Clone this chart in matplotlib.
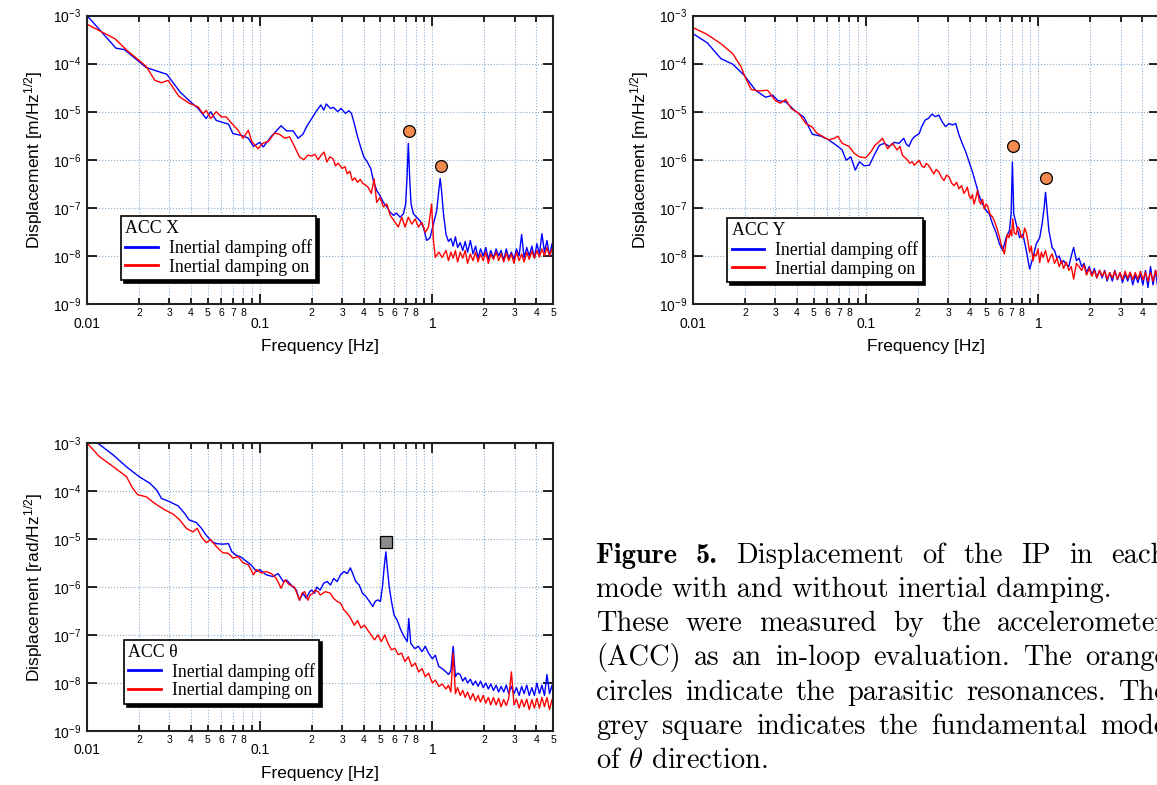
import matplotlib.pyplot as plt
from matplotlib.ticker import FixedLocator, FixedFormatter, NullLocator

plt.rcParams['font.family'] = 'Liberation Sans'
plt.rcParams['mathtext.fontset'] = 'custom'
plt.rcParams['mathtext.rm'] = 'Liberation Sans'
plt.rcParams['mathtext.it'] = 'Liberation Sans:italic'

# ---- data (frequency [Hz], amplitude) ----
f_floor = [1.20, 1.24, 1.28, 1.32, 1.36, 1.40, 1.45, 1.50, 1.55, 1.60, 1.66,
           1.72, 1.78, 1.84, 1.90, 1.97, 2.04, 2.11, 2.18, 2.26, 2.34, 2.42,
           2.50, 2.59, 2.68, 2.77, 2.87, 2.97, 3.07, 3.18, 3.29, 3.40, 3.52,
           3.64, 3.77, 3.90, 4.03, 4.17, 4.31, 4.46, 4.61, 4.77, 4.93, 5.00]

# ACC X, damping off
x_off_lo = [(0.010, 1.0e-3), (0.0147, 2.1e-4), (0.0165, 1.95e-4), (0.022, 8.3e-5),
            (0.029, 6.0e-5), (0.0345, 2.6e-5), (0.039, 1.7e-5), (0.044, 1.17e-5),
            (0.049, 7.2e-6), (0.052, 1.0e-5), (0.056, 6.6e-6), (0.066, 5.5e-6),
            (0.070, 3.5e-6), (0.079, 3.2e-6), (0.086, 2.8e-6), (0.092, 1.9e-6),
            (0.100, 2.3e-6), (0.105, 1.85e-6), (0.117, 3.1e-6), (0.133, 5.1e-6),
            (0.143, 4.0e-6), (0.156, 4.0e-6), (0.167, 2.8e-6), (0.178, 3.4e-6),
            (0.187, 4.9e-6), (0.200, 7.2e-6), (0.212, 1.0e-5), (0.226, 1.38e-5),
            (0.235, 1.08e-5), (0.243, 1.45e-5), (0.257, 1.17e-5), (0.268, 1.23e-5),
            (0.283, 1.0e-5), (0.296, 1.17e-5), (0.314, 9.2e-6), (0.329, 1.05e-5),
            (0.340, 9.2e-6), (0.353, 5.7e-6), (0.369, 3.0e-6), (0.387, 1.7e-6),
            (0.401, 1.15e-6), (0.420, 9.0e-7), (0.440, 6.6e-7), (0.455, 3.7e-7),
            (0.476, 2.3e-7), (0.498, 1.8e-7), (0.520, 1.3e-7), (0.545, 1.05e-7),
            (0.570, 8.1e-8), (0.596, 7.0e-8), (0.620, 7.8e-8), (0.650, 6.4e-8),
            (0.680, 7.5e-8), (0.700, 1.2e-7), (0.712, 3.7e-7), (0.726, 2.2e-6),
            (0.740, 3.7e-7), (0.753, 1.2e-7), (0.777, 7.5e-8), (0.810, 6.4e-8),
            (0.848, 5.4e-8), (0.887, 4.0e-8), (0.927, 2.1e-8), (0.970, 2.4e-8),
            (1.015, 4.7e-8), (1.060, 8.8e-8), (1.090, 2.3e-7), (1.110, 4.1e-7),
            (1.130, 2.3e-7), (1.160, 7.5e-8)]
x_off_floor = [2.8e-8, 2.0e-8, 2.3e-8, 1.6e-8, 2.5e-8, 1.5e-8, 1.9e-8, 1.3e-8,
               2.0e-8, 1.2e-8, 2.1e-8, 1.1e-8, 1.6e-8, 0.9e-8, 1.4e-8, 1.0e-8,
               1.5e-8, 0.85e-8, 1.3e-8, 0.9e-8, 1.4e-8, 1.0e-8, 1.3e-8, 0.8e-8,
               1.4e-8, 0.9e-8, 1.2e-8, 0.85e-8, 1.4e-8, 1.0e-8, 2.8e-8, 0.9e-8,
               1.5e-8, 1.0e-8, 1.6e-8, 0.9e-8, 1.8e-8, 1.1e-8, 2.9e-8, 1.2e-8,
               2.1e-8, 1.0e-8, 1.8e-8, 0.6e-8]

# ACC X, damping on
x_on_lo = [(0.010, 6.6e-4), (0.0145, 3.3e-4), (0.017, 1.9e-4), (0.022, 8.8e-5),
           (0.0247, 4.5e-5), (0.027, 4.0e-5), (0.0295, 4.5e-5), (0.034, 2.1e-5),
           (0.039, 1.5e-5), (0.044, 1.26e-5), (0.047, 9.1e-6), (0.049, 1.07e-5),
           (0.052, 7.2e-6), (0.056, 1.0e-5), (0.060, 7.8e-6), (0.064, 7.8e-6),
           (0.069, 5.7e-6), (0.075, 4.1e-6), (0.080, 2.8e-6), (0.086, 4.1e-6),
           (0.090, 2.4e-6), (0.098, 1.7e-6), (0.104, 2.2e-6), (0.112, 2.4e-6),
           (0.122, 3.6e-6), (0.130, 3.4e-6), (0.140, 2.8e-6), (0.149, 3.0e-6),
           (0.159, 1.9e-6), (0.170, 1.15e-6), (0.180, 1.0e-6), (0.190, 1.25e-6),
           (0.200, 1.2e-6), (0.209, 1.3e-6), (0.218, 1.0e-6), (0.227, 1.25e-6),
           (0.236, 1.45e-6), (0.245, 9.0e-7), (0.255, 1.15e-6), (0.266, 1.05e-6),
           (0.275, 7.5e-7), (0.285, 8.5e-7), (0.300, 6.6e-7), (0.312, 7.2e-7),
           (0.321, 5.1e-7), (0.333, 5.8e-7), (0.344, 3.7e-7), (0.356, 4.2e-7),
           (0.369, 3.4e-7), (0.382, 3.9e-7), (0.396, 3.2e-7), (0.410, 3.0e-7),
           (0.424, 2.7e-7), (0.443, 2.0e-7), (0.460, 4.0e-7), (0.476, 1.3e-7),
           (0.498, 1.65e-7), (0.520, 1.05e-7), (0.545, 1.2e-7), (0.570, 7.0e-8),
           (0.600, 5.4e-8), (0.635, 4.0e-8), (0.665, 6.4e-8), (0.695, 4.0e-8),
           (0.726, 6.4e-8), (0.760, 4.6e-8), (0.796, 5.9e-8), (0.830, 4.0e-8),
           (0.870, 5.0e-8), (0.910, 3.1e-8), (0.950, 4.0e-8), (0.990, 1.2e-7),
           (1.015, 2.1e-8), (1.040, 9.3e-9), (1.090, 1.2e-8), (1.140, 9.3e-9)]
x_on_floor = [1.3e-8, 0.8e-8, 1.2e-8, 0.9e-8, 1.3e-8, 0.75e-8, 1.2e-8, 0.9e-8,
              1.3e-8, 0.7e-8, 1.1e-8, 0.8e-8, 1.2e-8, 0.75e-8, 1.1e-8, 0.8e-8,
              1.2e-8, 0.7e-8, 1.1e-8, 0.85e-8, 1.2e-8, 0.8e-8, 1.1e-8, 0.75e-8,
              1.15e-8, 0.8e-8, 1.1e-8, 0.7e-8, 1.2e-8, 0.8e-8, 1.1e-8, 0.75e-8,
              1.2e-8, 0.85e-8, 1.25e-8, 0.9e-8, 1.3e-8, 0.95e-8, 1.4e-8, 1.0e-8,
              1.5e-8, 1.0e-8, 1.4e-8, 1.1e-8]

# ACC Y, damping off
y_off_lo = [(0.010, 4.2e-4), (0.0121, 2.7e-4), (0.0145, 1.27e-4), (0.017, 9.7e-5),
            (0.0198, 5.7e-5), (0.023, 2.8e-5), (0.0263, 2.0e-5), (0.029, 2.2e-5),
            (0.031, 1.7e-5), (0.0344, 1.6e-5), (0.039, 1.04e-5), (0.044, 7.6e-6),
            (0.049, 3.4e-6), (0.055, 3.1e-6), (0.061, 2.6e-6), (0.069, 1.9e-6),
            (0.073, 1.6e-6), (0.077, 9.8e-7), (0.082, 1.15e-6), (0.087, 6.1e-7),
            (0.092, 9.1e-7), (0.098, 7.5e-7), (0.105, 7.7e-7), (0.112, 1.25e-6),
            (0.120, 2.0e-6), (0.128, 2.2e-6), (0.137, 1.9e-6), (0.146, 2.3e-6),
            (0.156, 2.2e-6), (0.166, 2.8e-6), (0.172, 2.1e-6), (0.178, 1.9e-6),
            (0.185, 2.6e-6), (0.191, 3.0e-6), (0.204, 3.5e-6), (0.211, 4.9e-6),
            (0.221, 6.7e-6), (0.231, 7.3e-6), (0.242, 8.9e-6), (0.253, 7.9e-6),
            (0.265, 8.5e-6), (0.277, 6.2e-6), (0.290, 4.9e-6), (0.304, 5.7e-6),
            (0.318, 5.3e-6), (0.332, 5.7e-6), (0.347, 3.3e-6), (0.362, 2.2e-6),
            (0.380, 1.45e-6), (0.397, 9.0e-7), (0.415, 5.6e-7), (0.434, 3.2e-7),
            (0.454, 1.8e-7), (0.475, 1.2e-7), (0.497, 8.9e-8), (0.520, 7.5e-8),
            (0.543, 4.6e-8), (0.568, 3.1e-8), (0.594, 1.8e-8), (0.621, 1.3e-8),
            (0.650, 2.4e-8), (0.680, 3.4e-8), (0.695, 7.5e-8), (0.707, 9.0e-7),
            (0.720, 7.5e-8), (0.744, 4.6e-8), (0.778, 2.4e-8), (0.814, 2.8e-8),
            (0.851, 1.3e-8), (0.890, 5.3e-9), (0.930, 9.3e-9), (0.973, 1.8e-8),
            (1.018, 2.4e-8), (1.050, 4.6e-8), (1.080, 1.0e-7), (1.100, 2.1e-7),
            (1.120, 1.0e-7), (1.150, 3.4e-8), (1.190, 1.8e-8)]
y_off_floor = [1.5e-8, 1.3e-8, 0.9e-8, 1.0e-8, 0.7e-8, 0.8e-8, 0.65e-8, 0.6e-8,
               1.0e-8, 1.5e-8, 0.8e-8, 0.9e-8, 0.6e-8, 0.7e-8, 0.45e-8, 0.6e-8,
               0.4e-8, 0.55e-8, 0.35e-8, 0.5e-8, 0.35e-8, 0.5e-8, 0.3e-8, 0.45e-8,
               0.3e-8, 0.5e-8, 0.32e-8, 0.45e-8, 0.28e-8, 0.42e-8, 0.3e-8, 0.45e-8,
               0.25e-8, 0.4e-8, 0.28e-8, 0.42e-8, 0.25e-8, 0.5e-8, 0.22e-8, 0.6e-8,
               0.25e-8, 0.5e-8, 0.2e-8, 0.4e-8]

# ACC Y, damping on
y_on_lo = [(0.010, 5.6e-4), (0.012, 4.1e-4), (0.0145, 2.6e-4), (0.017, 1.6e-4),
           (0.019, 8.5e-5), (0.020, 5.3e-5), (0.0217, 2.9e-5), (0.024, 2.7e-5),
           (0.027, 2.8e-5), (0.030, 1.7e-5), (0.032, 1.5e-5), (0.0344, 1.8e-5),
           (0.037, 1.17e-5), (0.041, 9.2e-6), (0.045, 5.7e-6), (0.049, 4.8e-6),
           (0.052, 3.6e-6), (0.057, 3.0e-6), (0.061, 2.6e-6), (0.066, 2.8e-6),
           (0.069, 3.1e-6), (0.073, 2.2e-6), (0.080, 1.9e-6), (0.086, 1.35e-6),
           (0.092, 1.15e-6), (0.100, 1.1e-6), (0.107, 1.45e-6), (0.113, 2.0e-6),
           (0.120, 2.4e-6), (0.125, 2.8e-6), (0.134, 1.7e-6), (0.143, 2.2e-6),
           (0.152, 1.6e-6), (0.158, 1.9e-6), (0.163, 1.25e-6), (0.174, 1.0e-6),
           (0.180, 8.5e-7), (0.186, 9.1e-7), (0.191, 7.7e-7), (0.198, 8.8e-7),
           (0.204, 9.7e-7), (0.211, 7.5e-7), (0.218, 6.9e-7), (0.224, 8.4e-7),
           (0.231, 7.7e-7), (0.240, 6.2e-7), (0.248, 5.1e-7), (0.256, 6.3e-7),
           (0.265, 5.6e-7), (0.274, 4.4e-7), (0.284, 3.7e-7), (0.294, 4.8e-7),
           (0.304, 4.4e-7), (0.314, 3.3e-7), (0.325, 2.9e-7), (0.336, 3.4e-7),
           (0.347, 2.5e-7), (0.359, 2.9e-7), (0.371, 2.0e-7), (0.380, 2.3e-7),
           (0.388, 2.7e-7), (0.397, 1.8e-7), (0.406, 1.55e-7), (0.415, 1.9e-7),
           (0.424, 1.2e-7), (0.434, 1.6e-7), (0.444, 2.3e-7), (0.454, 1.4e-7),
           (0.464, 1.2e-7), (0.475, 1.5e-7), (0.486, 9.5e-8), (0.497, 1.2e-7),
           (0.508, 1.1e-7), (0.520, 8.0e-8), (0.531, 7.0e-8), (0.543, 6.5e-8),
           (0.555, 5.4e-8), (0.568, 4.3e-8), (0.580, 3.4e-8), (0.594, 2.5e-8),
           (0.607, 1.8e-8), (0.621, 1.4e-8), (0.635, 1.1e-8), (0.648, 1.8e-8),
           (0.660, 2.8e-8), (0.675, 2.4e-8), (0.690, 3.4e-8), (0.700, 2.6e-8),
           (0.710, 5.9e-8), (0.725, 3.0e-8), (0.744, 2.8e-8), (0.760, 4.0e-8),
           (0.778, 3.6e-8), (0.795, 2.5e-8), (0.814, 2.4e-8), (0.832, 3.8e-8),
           (0.851, 3.1e-8), (0.870, 2.0e-8), (0.890, 1.2e-8), (0.910, 1.6e-8),
           (0.930, 7.9e-9), (0.950, 1.1e-8), (0.973, 1.0e-8), (0.995, 1.4e-8),
           (1.018, 7.3e-9), (1.040, 1.2e-8), (1.065, 9.3e-9), (1.100, 1.3e-8),
           (1.140, 7.3e-9), (1.180, 1.0e-8)]
y_on_floor = [1.1e-8, 0.7e-8, 0.9e-8, 0.6e-8, 0.8e-8, 0.55e-8, 0.75e-8, 0.5e-8,
              0.6e-8, 0.33e-8, 0.7e-8, 0.6e-8, 0.5e-8, 0.65e-8, 0.4e-8, 0.55e-8,
              0.38e-8, 0.5e-8, 0.35e-8, 0.5e-8, 0.38e-8, 0.48e-8, 0.33e-8, 0.45e-8,
              0.35e-8, 0.48e-8, 0.33e-8, 0.45e-8, 0.32e-8, 0.48e-8, 0.34e-8, 0.46e-8,
              0.32e-8, 0.45e-8, 0.33e-8, 0.48e-8, 0.32e-8, 0.46e-8, 0.3e-8, 0.45e-8,
              0.3e-8, 0.5e-8, 0.33e-8, 0.42e-8]

# ACC theta, damping off
t_off_lo = [(0.0115, 1.0e-3), (0.0142, 5.6e-4), (0.0169, 3.2e-4), (0.020, 2.0e-4),
            (0.0231, 1.45e-4), (0.0253, 1.05e-4), (0.027, 7.0e-5), (0.030, 6.0e-5),
            (0.0337, 4.9e-5), (0.0368, 3.4e-5), (0.039, 2.5e-5), (0.043, 2.2e-5),
            (0.046, 1.67e-5), (0.049, 1.2e-5), (0.053, 8.8e-6), (0.056, 8.0e-6),
            (0.061, 7.8e-6), (0.066, 8.0e-6), (0.069, 5.4e-6), (0.073, 4.6e-6),
            (0.078, 4.2e-6), (0.084, 3.4e-6), (0.089, 2.9e-6), (0.096, 2.1e-6),
            (0.100, 2.3e-6), (0.109, 1.8e-6), (0.119, 1.65e-6), (0.128, 1.9e-6),
            (0.137, 1.3e-6), (0.143, 1.4e-6), (0.152, 1.1e-6), (0.163, 8.6e-7),
            (0.170, 5.3e-7), (0.178, 7.4e-7), (0.186, 5.8e-7), (0.195, 8.0e-7),
            (0.200, 8.6e-7), (0.208, 7.4e-7), (0.214, 1.0e-6), (0.224, 8.6e-7),
            (0.235, 1.2e-6), (0.246, 1.3e-6), (0.257, 1.1e-6), (0.268, 1.5e-6),
            (0.281, 1.3e-6), (0.294, 1.8e-6), (0.308, 2.1e-6), (0.322, 1.9e-6),
            (0.335, 2.5e-6), (0.344, 2.0e-6), (0.360, 1.3e-6), (0.377, 1.1e-6),
            (0.394, 7.4e-7), (0.413, 6.3e-7), (0.432, 5.0e-7), (0.452, 3.9e-7),
            (0.466, 5.0e-7), (0.484, 5.4e-7), (0.500, 5.0e-7), (0.514, 1.0e-6),
            (0.526, 2.6e-6), (0.538, 5.4e-6), (0.550, 2.3e-6), (0.563, 1.0e-6),
            (0.580, 5.0e-7), (0.600, 2.6e-7), (0.627, 2.0e-7), (0.655, 1.3e-7),
            (0.685, 9.3e-8), (0.716, 7.3e-8), (0.730, 2.2e-7), (0.750, 6.7e-8),
            (0.790, 5.2e-8), (0.830, 5.8e-8), (0.870, 4.5e-8), (0.910, 5.8e-8),
            (0.950, 4.2e-8), (1.000, 3.2e-8), (1.040, 3.8e-8), (1.090, 2.2e-8),
            (1.140, 2.0e-8)]
t_off_floor = [1.7e-8, 1.5e-8, 1.8e-8, 5.8e-8, 1.35e-8, 1.6e-8, 1.5e-8, 1.1e-8,
               1.3e-8, 1.0e-8, 1.2e-8, 0.9e-8, 1.1e-8, 0.85e-8, 1.1e-8, 0.8e-8,
               1.0e-8, 0.75e-8, 0.95e-8, 0.7e-8, 0.9e-8, 0.65e-8, 0.85e-8, 0.65e-8,
               0.9e-8, 0.6e-8, 0.85e-8, 0.6e-8, 0.8e-8, 0.55e-8, 0.85e-8, 0.6e-8,
               0.9e-8, 0.55e-8, 0.8e-8, 0.55e-8, 1.0e-8, 0.6e-8, 0.9e-8, 0.55e-8,
               1.5e-8, 0.6e-8, 0.9e-8, 0.6e-8]

# ACC theta, damping on
t_on_lo = [(0.010, 1.0e-3), (0.0118, 5.2e-4), (0.0142, 3.2e-4), (0.0169, 2.0e-4),
           (0.0185, 1.1e-4), (0.0197, 8.3e-5), (0.022, 7.6e-5), (0.0247, 5.5e-5),
           (0.028, 4.1e-5), (0.0315, 3.3e-5), (0.0344, 2.5e-5), (0.0376, 1.67e-5),
           (0.041, 1.4e-5), (0.0435, 1.67e-5), (0.046, 1.1e-5), (0.049, 8.4e-6),
           (0.052, 9.7e-6), (0.056, 7.0e-6), (0.061, 5.2e-6), (0.066, 5.0e-6),
           (0.070, 4.0e-6), (0.075, 4.3e-6), (0.080, 3.2e-6), (0.086, 2.9e-6),
           (0.092, 1.8e-6), (0.096, 2.3e-6), (0.102, 1.95e-6), (0.109, 2.1e-6),
           (0.117, 1.9e-6), (0.125, 1.5e-6), (0.133, 9.4e-7), (0.140, 1.4e-6),
           (0.149, 1.1e-6), (0.159, 1.0e-6), (0.170, 5.3e-7), (0.176, 7.4e-7),
           (0.182, 8.0e-7), (0.190, 5.3e-7), (0.196, 6.8e-7), (0.204, 7.4e-7),
           (0.209, 8.6e-7), (0.218, 8.0e-7), (0.224, 6.8e-7), (0.240, 8.0e-7),
           (0.257, 7.4e-7), (0.268, 5.8e-7), (0.281, 5.0e-7), (0.294, 4.6e-7),
           (0.308, 3.3e-7), (0.322, 2.8e-7), (0.337, 2.2e-7), (0.353, 1.6e-7),
           (0.369, 2.0e-7), (0.386, 1.4e-7), (0.404, 1.6e-7), (0.423, 1.25e-7),
           (0.442, 1.0e-7), (0.462, 7.9e-8), (0.484, 1.0e-7), (0.506, 7.3e-8),
           (0.530, 1.0e-7), (0.553, 6.7e-8), (0.580, 4.9e-8), (0.606, 5.3e-8),
           (0.634, 3.9e-8), (0.663, 4.2e-8), (0.694, 2.8e-8), (0.726, 3.5e-8),
           (0.760, 2.2e-8), (0.796, 2.6e-8), (0.833, 1.7e-8), (0.872, 2.0e-8),
           (0.910, 1.35e-8), (0.950, 1.6e-8), (1.000, 1.0e-8), (1.040, 1.15e-8),
           (1.090, 8.5e-9), (1.140, 9.5e-9)]
t_on_floor = [7.5e-9, 9.0e-9, 6.5e-9, 4.2e-8, 6.0e-9, 8.0e-9, 5.5e-9, 7.0e-9,
              5.0e-9, 6.5e-9, 4.5e-9, 6.0e-9, 4.2e-9, 5.5e-9, 4.0e-9, 5.5e-9,
              3.8e-9, 5.0e-9, 3.5e-9, 5.0e-9, 3.5e-9, 4.8e-9, 3.2e-9, 4.5e-9,
              3.4e-9, 4.8e-9, 1.7e-8, 3.5e-9, 4.6e-9, 3.0e-9, 4.5e-9, 3.2e-9,
              4.6e-9, 2.8e-9, 4.5e-9, 3.0e-9, 4.8e-9, 3.0e-9, 5.0e-9, 3.2e-9,
              5.0e-9, 2.8e-9, 4.5e-9, 3.5e-9]

# markers
res_x = [(0.73, 4.0e-6), (1.12, 7.3e-7)]
res_y = [(0.71, 1.9e-6), (1.10, 4.1e-7)]
fund_t = [(0.54, 8.8e-6)]

legend_labels = ['Inertial damping off', 'Inertial damping on']

W, H = 1157, 785
fig = plt.figure(figsize=(W / 100, H / 100), dpi=100)

serif = {'family': 'Liberation Serif', 'size': 12.8}
grid_col = '#8aaed0'


def join(lo, floor):
    f = [p[0] for p in lo] + f_floor
    a = [p[1] for p in lo] + floor
    return f, a


def panel(rect, off, on, title, ylabel, leg_xy):
    ax = fig.add_axes(rect)
    f, a = join(*off)
    l1, = ax.plot(f, a, color='#0000ff', lw=1.0)
    f, a = join(*on)
    l2, = ax.plot(f, a, color='#ff0000', lw=1.0)
    ax.set_xscale('log')
    ax.set_yscale('log')
    ax.set_xlim(0.01, 5)
    ax.set_ylim(1e-9, 1e-3)

    ax.xaxis.set_major_locator(FixedLocator([0.01, 0.1, 1]))
    ax.xaxis.set_major_formatter(FixedFormatter(['0.01', '0.1', '1']))
    minors, mlabels = [], []
    for dec in [0.01, 0.1, 1]:
        for k in range(2, 10):
            if dec * k <= 5.0001:
                minors.append(dec * k)
                mlabels.append('' if k == 9 else str(k))
    ax.xaxis.set_minor_locator(FixedLocator(minors))
    ax.xaxis.set_minor_formatter(FixedFormatter(mlabels))
    ax.yaxis.set_major_locator(FixedLocator([10.0 ** e for e in range(-9, -2)]))
    ax.yaxis.set_major_formatter(FixedFormatter(
        [r'$\mathregular{10^{%d}}$' % e for e in range(-9, -2)]))
    ax.yaxis.set_minor_locator(NullLocator())

    ax.tick_params(which='both', direction='in', top=True, right=True,
                   color='k', width=1.2)
    ax.tick_params(axis='x', which='major', length=7, pad=9, labelsize=10)
    ax.tick_params(axis='x', which='minor', length=4, pad=3, labelsize=7.5)
    ax.tick_params(axis='y', which='major', length=7, pad=4, labelsize=10)
    ax.grid(True, axis='x', which='both', ls=':', lw=0.8, color=grid_col)
    ax.grid(True, axis='y', which='major', ls=':', lw=0.8, color=grid_col)
    for s in ax.spines.values():
        s.set_linewidth(1.5)
        s.set_color('#222222')

    ax.set_xlabel('Frequency [Hz]', fontsize=12.5, labelpad=6)
    ax.set_ylabel(ylabel, fontsize=12.5, labelpad=6)

    leg = ax.legend([l1, l2], legend_labels, title=title, loc='lower left',
                    bbox_to_anchor=leg_xy, borderaxespad=0, prop=serif,
                    title_fontproperties=serif, alignment='left',
                    fancybox=False, framealpha=1, edgecolor='k',
                    shadow={'color': 'k', 'alpha': 1},
                    borderpad=0.25, labelspacing=0.1, handlelength=1.85,
                    handletextpad=0.6)
    leg.get_frame().set_linewidth(1.2)
    for ln in leg.get_lines():
        ln.set_linewidth(2.0)
    return ax


ax1 = panel([0.0752, 0.6127, 0.4028, 0.3675], (x_off_lo, x_off_floor),
            (x_on_lo, x_on_floor), 'ACC X',
            r'Displacement [m/Hz$^{1/2}$]', (0.073, 0.083))
for fx, ay in res_x:
    ax1.plot(fx, ay, 'o', ms=8.5, mfc='#f28a50', mec='k', mew=0.9)

ax2 = panel([0.599, 0.6127, 0.4028, 0.3675], (y_off_lo, y_off_floor),
            (y_on_lo, y_on_floor), 'ACC Y',
            r'Displacement [m/Hz$^{1/2}$]', (0.073, 0.076))
for fx, ay in res_y:
    ax2.plot(fx, ay, 'o', ms=8.5, mfc='#f28a50', mec='k', mew=0.9)

ax3 = panel([0.0752, 0.0688, 0.4028, 0.3669], (t_off_lo, t_off_floor),
            (t_on_lo, t_on_floor), 'ACC \u03b8',
            r'Displacement [rad/Hz$^{1/2}$]', (0.079, 0.094))
for fx, ay in fund_t:
    ax3.plot(fx, ay, 's', ms=8, mfc='#8c8c8c', mec='k', mew=0.9)

# ---- caption, justified like the LaTeX source ----
cap_size = 20.5
x_left, x_right = 596, 1167
caption = [
    ([('Figure', 'cmb10'), ('5.', 'cmb10'), ('Displacement', 'cmr10'),
      ('of', 'cmr10'), ('the', 'cmr10'), ('IP', 'cmr10'), ('in', 'cmr10'),
      ('each', 'cmr10')], 563, True),
    ([('mode with and without inertial damping.', 'cmr10')], 597, False),
    ([(w, 'cmr10') for w in 'These were measured by the accelerometer'.split()], 631, True),
    ([(w, 'cmr10') for w in '(ACC) as an in-loop evaluation. The orange'.split()], 665, True),
    ([(w, 'cmr10') for w in 'circles indicate the parasitic resonances. The'.split()], 700, True),
    ([(w, 'cmr10') for w in 'grey square indicates the fundamental mode'.split()], 734, True),
    ([(r'of $\theta$ direction.', 'cmr10')], 768, False),
]

fig.canvas.draw()
rend = fig.canvas.get_renderer()
for words, base, just in caption:
    texts = [fig.text(0, 1 - base / H, w, family=fam, fontsize=cap_size,
                      va='baseline', ha='left', math_fontfamily='cm')
             for w, fam in words]
    widths = [t.get_window_extent(rend).width for t in texts]
    gap = 0
    if just and len(texts) > 1:
        gap = (x_right - x_left - sum(widths)) / (len(texts) - 1)
    x = x_left
    for t, w in zip(texts, widths):
        t.set_x(x / W)
        x += w + gap

fig.savefig('out.png', dpi=100)
